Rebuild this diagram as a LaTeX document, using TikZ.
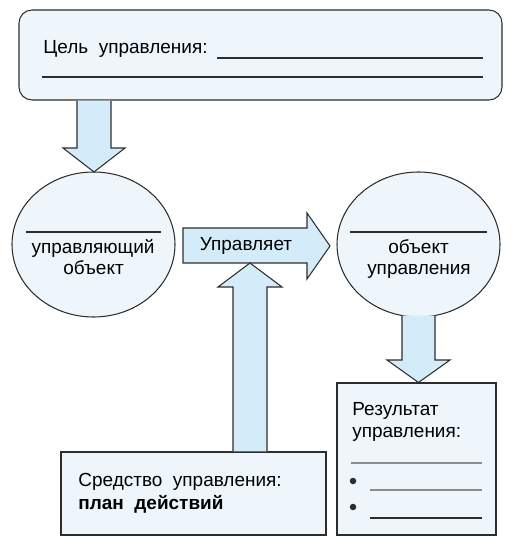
\documentclass[tikz,border=0pt]{standalone}
\usepackage{fontspec}
\setmainfont{Liberation Sans}
\usetikzlibrary{shapes.geometric}

\definecolor{boxblue}{RGB}{238,246,252}
\definecolor{arrowblue}{RGB}{212,235,249}
\definecolor{edgegray}{RGB}{45,45,45}
\definecolor{rulegray}{RGB}{140,140,140}

\tikzset{
    panel/.style={draw=edgegray, line width=0.6pt, fill=boxblue, inner sep=0pt},
    blob/.style={ellipse, draw=edgegray, line width=0.6pt, fill=boxblue,
        minimum width=3.26cm, minimum height=2.9cm, inner sep=0pt},
    fatarrow/.style={draw=edgegray, line width=0.6pt, fill=arrowblue, line join=miter},
    txt/.style={font=\fontsize{10.8}{13}\selectfont, inner sep=0pt},
    blank/.style={draw=edgegray, line width=0.8pt},
}

\begin{document}
\begin{tikzpicture}
    \useasboundingbox (0, 0) rectangle (10.34, -10.98);

    % boxes and ovals
    \node[panel, rounded corners=0.26cm, minimum width=9.66cm, minimum height=1.8cm] (goal) at (5.21, -1.1) {};
    \node[blob] (ctrl) at (1.87, -4.89) {};
    \node[blob] (obj) at (8.37, -4.89) {};
    \node[panel, minimum width=5.3cm, minimum height=1.66cm] (means) at (3.87, -9.87) {};
    \node[panel, minimum width=3.18cm, minimum height=3.04cm] (result) at (8.33, -9.18) {};

    % block arrows
    \filldraw[fatarrow] (1.54,0 |- goal.south) -- (1.54, -2.96) -- (1.26, -2.96) -- (1.88, -3.44)
        -- (2.5, -2.96) -- (2.22, -2.96) -- (2.22,0 |- goal.south);

    \filldraw[fatarrow] (3.66, -4.56) -- (6.14, -4.56) -- (6.14, -4.26) -- (6.6, -4.92)
        -- (6.14, -5.58) -- (6.14, -5.26) -- (3.66, -5.26) -- cycle;

    \filldraw[fatarrow] (4.66,0 |- means.north) -- (4.66, -5.74) -- (4.36, -5.74) -- (5, -5.26)
        -- (5.64, -5.74) -- (5.34, -5.74) -- (5.34,0 |- means.north);

    \filldraw[fatarrow] (8.04, -6.31) -- (8.04, -7.2) -- (7.74, -7.2) -- (8.37,0 |- result.north)
        -- (9, -7.2) -- (8.7, -7.2) -- (8.7, -6.31);

    % goal
    \node[txt, anchor=base west] (goaltxt) at (0.86, -1.08) {Цель~~управления:};
    \draw[blank] (4.34, -1.16) -- (9.66, -1.16);
    \draw[blank] (0.84, -1.54) -- (9.66, -1.54);

    % ovals
    \draw[blank, line width=0.6pt] (0.52, -4.64) -- (3.22, -4.64);
    \node[txt, anchor=base] (ctrl1) at (1.86, -5.08) {управляющий};
    \node[txt, anchor=base] (ctrl2) at (1.87, -5.5) {объект};

    \draw[blank, line width=0.6pt] (7, -4.64) -- (9.74, -4.64);
    \node[txt, anchor=base] (obj1) at (8.37, -5.08) {объект};
    \node[txt, anchor=base] (obj2) at (8.38, -5.5) {управления};

    \node[txt, anchor=base] (acts) at (4.92, -5.02) {Управляет};

    % means
    \node[txt, anchor=base west] (means1) at (1.56, -9.72) {Средство~~управления:};
    \node[txt, anchor=base west, font=\fontsize{10.8}{13}\selectfont\bfseries] (means2) at (1.56, -10.18) {план~~действий};

    % result
    \node[txt, anchor=base west] (res1) at (7.04, -8.3) {Результат};
    \node[txt, anchor=base west] (res2) at (7.04, -8.74) {управления:};
    \draw[blank, draw=rulegray, line width=0.6pt] (7.02, -9.26) -- (9.64, -9.26);
    \fill[edgegray] (7.06, -9.62) circle (0.065);
    \draw[blank, draw=rulegray] (7.4, -9.8) -- (9.64, -9.8);
    \fill[edgegray] (7.06, -10.14) circle (0.065);
    \draw[blank] (7.4, -10.36) -- (9.64, -10.36);
\end{tikzpicture}
\end{document}
